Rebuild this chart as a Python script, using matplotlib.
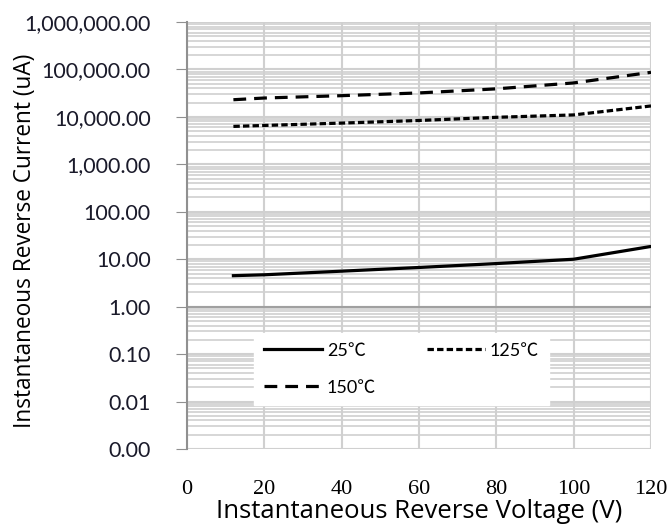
import numpy as np
import matplotlib
matplotlib.use("Agg")
from matplotlib import pyplot as plt
from matplotlib.ticker import FixedLocator, LogLocator, NullFormatter

# ---------------- data ----------------
voltage = [12, 20, 40, 60, 80, 100, 120]
i_25 = [4.5, 4.7, 5.6, 6.7, 8.1, 10.0, 18.6]
i_125 = [6300, 6600, 7400, 8400, 9800, 11000, 17000]
i_150 = [23000, 25000, 28000, 32000, 39000, 52000, 87000]

x_ticks = [0, 20, 40, 60, 80, 100, 120]
y_ticks = [0.001, 0.01, 0.1, 1, 10, 100, 1000, 10000, 100000, 1000000]
y_labels = ["0.00", "0.01", "0.10", "1.00", "10.00", "100.00", "1,000.00",
            "10,000.00", "100,000.00", "1,000,000.00"]

fig = plt.figure(figsize=(6.71, 5.29), dpi=100)
ax = fig.add_axes([187/671, 1-449/529, 464/671, 427/529])

grid_c = "#d0d0d0"
l25, = ax.plot(voltage, i_25, color="black", lw=2.3, ls="-", label="25\u2103")
l125, = ax.plot(voltage, i_125, color="black", lw=2.3, ls=(0, (2.0, 1.0)), label="125\u2103")
l150, = ax.plot(voltage, i_150, color="black", lw=2.3, ls=(0, (4.0, 2.5)), label="150\u2103")

ax.set_yscale("log")
ax.set_xlim(0, 120)
ax.set_ylim(0.001, 1000000)

ax.yaxis.set_major_locator(FixedLocator(y_ticks))
ax.set_yticklabels(y_labels, family="Lato", fontsize=15.5, color="#1a1a2a")
ax.yaxis.set_minor_locator(LogLocator(base=10, subs=np.arange(2, 10), numticks=20))
ax.yaxis.set_minor_formatter(NullFormatter())
ax.set_xticks(x_ticks)
ax.set_xticklabels([str(t) for t in x_ticks], family="Liberation Serif", fontsize=16)

ax.grid(True, which="major", color=grid_c, lw=1.5)
ax.grid(True, which="minor", axis="y", color=grid_c, lw=1.2)
ax.set_axisbelow(True)
ax.axhline(1, color="#a0a0a0", lw=1.5, zorder=1)

for s in ["top", "right", "bottom"]:
    ax.spines[s].set_visible(False)
ax.spines["left"].set_color("#909090")
ax.spines["left"].set_linewidth(1.5)

ax.tick_params(axis="y", which="major", length=8, color="#909090", pad=18)
ax.tick_params(axis="y", which="minor", length=0)
ax.tick_params(axis="x", length=0, pad=22)

ax.set_xlabel("Instantaneous Reverse Voltage (V)", family="Open Sans", fontsize=18.5, labelpad=0)
ax.set_ylabel("Instantaneous Reverse Current (uA)", family="Open Sans", fontsize=16.3)
ax.yaxis.set_label_coords(-150/464, 0.487)

# row-wise order: 25, 125 on first row, 150 below
leg = ax.legend([l25, l150, l125], ["25\u2103", "150\u2103", "125\u2103"],
                loc="upper left", bbox_to_anchor=(0.144, 0.272), ncol=2,
                frameon=True, fancybox=False, edgecolor="white", framealpha=1,
                prop={"family": ["Lato", "Noto Sans CJK SC"], "size": 13},
                handlelength=3.2, handletextpad=0.3, columnspacing=2.8,
                labelspacing=1.15, borderpad=0.55, borderaxespad=0)

fig.savefig("out.png", dpi=100)
